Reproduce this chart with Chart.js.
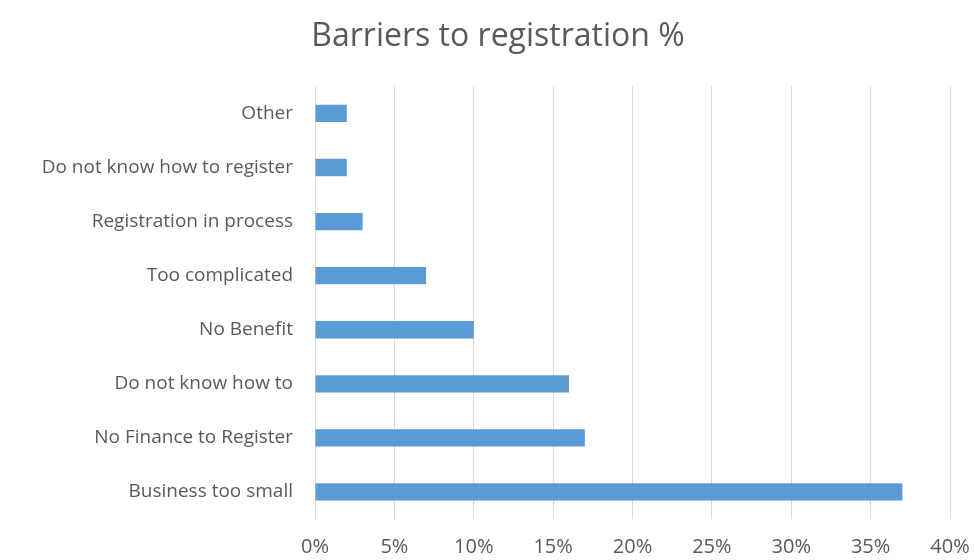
<!DOCTYPE html>
<html>
<head>
<meta charset="utf-8">
<title>Barriers to registration %</title>
<script src="https://cdn.jsdelivr.net/npm/chart.js@4/dist/chart.umd.min.js"></script>
<style>
  html, body { margin: 0; padding: 0; background: #fff; }
  canvas { display: block; }
</style>
</head>
<body>
<canvas id="barriers-chart" width="974" height="560"></canvas>
<script>
"use strict";

// categories top to bottom, values in percent
var categories = [
  "Other",
  "Do not know how to register",
  "Registration in process",
  "Too complicated",
  "No Benefit",
  "Do not know how to",
  "No Finance to Register",
  "Business too small"
];
var percentValues = [2, 2, 3, 7, 10, 16, 17, 37];
var xTickMax = 40;
var xTickStep = 5;

var ctx = document.getElementById("barriers-chart").getContext("2d");
var fontFam = "'Open Sans', 'Noto Sans', sans-serif";
var padLeft = 22; // shifts the title centre to match

var chart = new Chart(ctx, {
  type: "bar",
  data: {
    labels: categories,
    datasets: [{
      data: percentValues,
      backgroundColor: "#5B9BD5",
      barPercentage: 0.32,
      categoryPercentage: 1.0
    }]
  },
  options: {
    indexAxis: "y",
    responsive: false,
    animation: false,
    layout: { padding: { left: padLeft, right: 0, top: 0, bottom: 0 } },
    plugins: {
      legend: { display: false },
      tooltip: { enabled: false },
      title: {
        display: true,
        text: "Barriers to registration %",
        color: "#595959",
        font: { family: fontFam, size: 32, weight: "normal" },
        padding: { top: 18, bottom: 30 }
      }
    },
    scales: {
      x: {
        min: 0,
        max: xTickMax,
        ticks: {
          stepSize: xTickStep,
          color: "#595959",
          font: { family: fontFam, size: 20 },
          padding: 16,
          callback: function (v) { return v + "%"; }
        },
        grid: { color: "#d9d9d9", drawTicks: false },
        border: { display: false },
        afterFit: function (scale) {
          scale.height = 41;
          scale.paddingRight = 24;
        }
      },
      y: {
        ticks: {
          color: "#595959",
          font: { family: fontFam, size: 19 },
          padding: 22
        },
        grid: { display: false, drawTicks: false },
        border: { display: false },
        afterFit: function (scale) { scale.width = 315 - padLeft; }
      }
    }
  }
});
</script>
</body>
</html>
